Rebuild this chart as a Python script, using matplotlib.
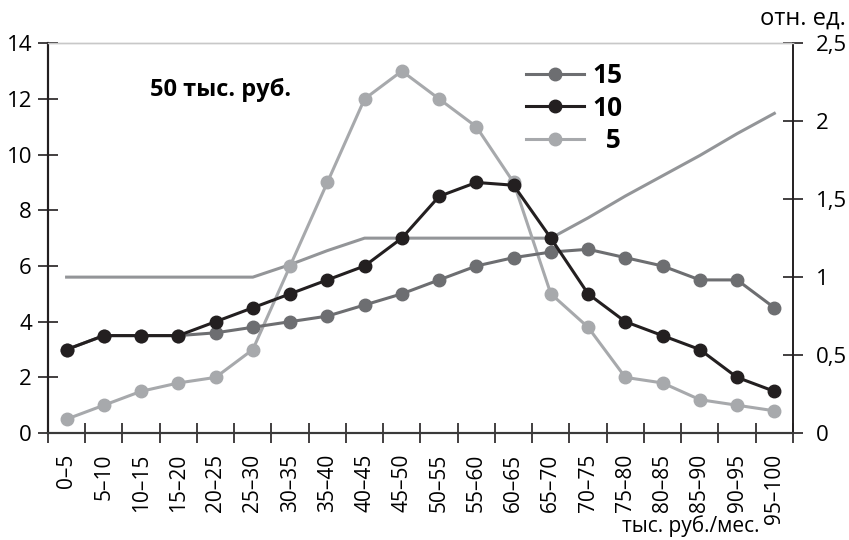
import matplotlib.pyplot as plt
import numpy as np

plt.rcParams['font.family'] = ['Open Sans', 'DejaVu Sans']

categories = ['0–5', '5–10', '10–15', '15–20', '20–25', '25–30', '30–35', '35–40',
              '40–45', '45–50', '50–55', '55–60', '60–65', '65–70', '70–75', '75–80',
              '80–85', '85–90', '90–95', '95–100']

s15 = [3, 3.5, 3.5, 3.5, 3.6, 3.8, 4, 4.2, 4.6, 5, 5.5, 6, 6.3, 6.5, 6.6, 6.3, 6, 5.5, 5.5, 4.5]
s10 = [3, 3.5, 3.5, 3.5, 4, 4.5, 5, 5.5, 6, 7, 8.5, 9, 8.9, 7, 5, 4, 3.5, 3, 2, 1.5]
s5 = [0.5, 1, 1.5, 1.8, 2, 3, 6, 9, 12, 13, 12, 11, 9, 5, 3.8, 2, 1.8, 1.2, 1, 0.8]
rel = [1, 1, 1, 1, 1, 1, 1.08, 1.17, 1.25, 1.25, 1.25, 1.25, 1.25, 1.25,
       1.38, 1.52, 1.65, 1.78, 1.92, 2.05]

right_ticks = [0, 0.5, 1, 1.5, 2, 2.5]
right_labels = ['0', '0,5', '1', '1,5', '2', '2,5']

c15 = '#6d6e71'
c10 = '#231f20'
c5 = '#a7a9ac'
crel = '#939598'

fig = plt.figure(figsize=(8.49, 5.4), dpi=100)
ax = fig.add_axes([0.0565, 0.198, 0.8775, 0.722])
ax2 = ax.twinx()

x = np.arange(len(categories))

ax2.plot(x, rel, color=crel, lw=2.2, zorder=1)
ax.plot(x, s15, color=c15, lw=2.2, marker='o', ms=9, label='15', zorder=3)
ax.plot(x, s10, color=c10, lw=2.2, marker='o', ms=9, label='10', zorder=4)
ax.plot(x, s5, color=c5, lw=2.2, marker='o', ms=9, label='  5', zorder=2)

ax.set_zorder(ax2.get_zorder() + 1)
ax.patch.set_visible(False)

ax.set_xlim(-0.5, 19.5)
ax.set_ylim(0, 14)
ax2.set_ylim(0, 2.5)

ax.set_yticks(range(0, 15, 2))
ax.tick_params(axis='y', direction='inout', length=15, width=1.2, labelsize=16, pad=4, color='#231f20')
ax.set_xticks(x, categories, rotation=90, fontsize=15)
ax.set_xticks(np.arange(-0.5, 20, 1), minor=True)
ax.tick_params(axis='x', which='major', length=0, pad=15)
ax.tick_params(axis='x', which='minor', direction='inout', length=15, width=1.2, color='#231f20')

ax2.set_yticks(right_ticks, right_labels)
ax2.tick_params(axis='y', direction='inout', length=15, width=1.2, labelsize=16, pad=9, color='#231f20')

for a in (ax, ax2):
    a.spines['top'].set_color('#c8c8c8')
    a.spines['top'].set_linewidth(1)
    a.spines['left'].set_linewidth(1.5)
    a.spines['right'].set_linewidth(1.2)
    a.spines['bottom'].set_linewidth(1.5)
    a.spines['left'].set_color('#231f20')
    a.spines['right'].set_color('#231f20')
    a.spines['bottom'].set_color('#3a3a3a')

ax.text(0.137, 0.88, '50 тыс. руб.', transform=ax.transAxes, fontsize=17,
        fontweight='bold', ha='left', va='center')

ax.legend(loc='upper left', bbox_to_anchor=(0.61, 1.012), frameon=False,
          prop={'weight': 'bold', 'size': 19}, handlelength=2.2,
          handletextpad=0.3, labelspacing=0.2)

fig.text(0.996, 0.965, 'отн. ед.', ha='right', va='center', fontsize=17)
fig.text(0.895, 0.025, 'тыс. руб./мес.', ha='right', va='center', fontsize=15)

fig.savefig('out.png', dpi=100)
